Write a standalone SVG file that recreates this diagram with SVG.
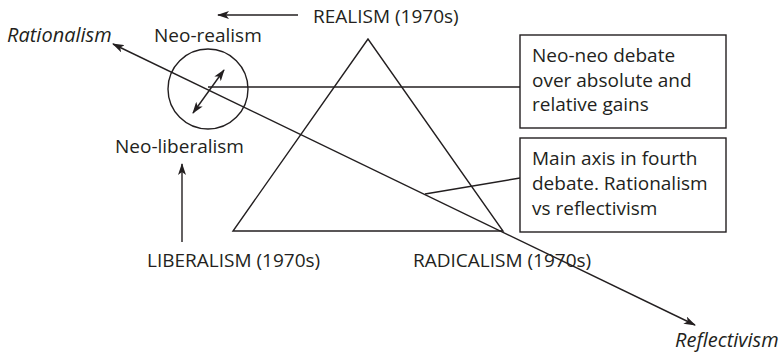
<svg xmlns="http://www.w3.org/2000/svg" width="779" height="354" viewBox="0 0 779 354">
<defs>
<marker id="ah" viewBox="0 0 12 8" refX="11" refY="4" markerWidth="12" markerHeight="8" markerUnits="userSpaceOnUse" orient="auto-start-reverse">
<path d="M0,0 L12,4 L0,8 L3,4 z" fill="#231f20"/>
</marker>
</defs>
<style>
.ln{stroke:#231f20;stroke-width:1.4;fill:none}
.bx{stroke:#231f20;stroke-width:1.4;fill:#fff}
text{font-family:"Open Sans","Liberation Sans",sans-serif;font-size:19px;fill:#231f20}
.it{font-style:italic;font-size:20px}
</style>
<rect width="779" height="354" fill="#fff"/>
<g id="connectors">
<polygon class="ln" points="368,39 233,231 503,231"/>
<line class="ln" x1="208" y1="87" x2="520" y2="87"/>
<line class="ln" x1="520" y1="178" x2="425" y2="194"/>
<line class="ln" x1="695" y1="325" x2="113" y2="44" marker-start="url(#ah)" marker-end="url(#ah)"/>
<line class="ln" x1="298" y1="15" x2="218" y2="15" marker-end="url(#ah)"/>
<line class="ln" x1="182" y1="242" x2="182" y2="164" marker-end="url(#ah)"/>
</g>
<g id="neo-circle">
<circle class="ln" cx="208" cy="89" r="40"/>
<line class="ln" x1="193" y1="113" x2="224" y2="70" marker-start="url(#ah)" marker-end="url(#ah)"/>
</g>
<g id="realism"><text x="313" y="23">REALISM (1970s)</text></g>
<g id="liberalism"><text x="147" y="267">LIBERALISM (1970s)</text></g>
<g id="radicalism"><text x="413" y="267">RADICALISM (1970s)</text></g>
<g id="neo-realism"><text x="154" y="42">Neo-realism</text></g>
<g id="neo-liberalism"><text x="115" y="153">Neo-liberalism</text></g>
<g id="rationalism"><text class="it" x="7" y="42">Rationalism</text></g>
<g id="reflectivism"><text class="it" x="675" y="347">Reflectivism</text></g>
<g id="box-neo">
<rect class="bx" x="520" y="35" width="206" height="93"/>
<text x="532" y="62">Neo-neo debate</text>
<text x="532" y="87">over absolute and</text>
<text x="532" y="111">relative gains</text>
</g>
<g id="box-axis">
<rect class="bx" x="520" y="138" width="206" height="94"/>
<text x="532" y="165">Main axis in fourth</text>
<text x="532" y="190">debate. Rationalism</text>
<text x="532" y="215">vs reflectivism</text>
</g>
</svg>
